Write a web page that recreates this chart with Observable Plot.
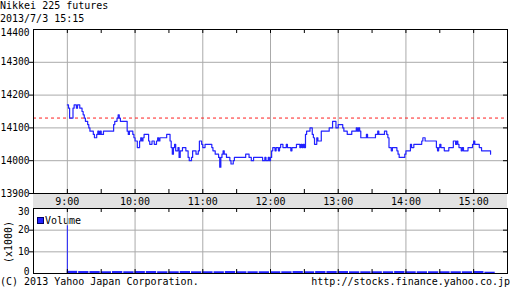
<!DOCTYPE html>
<html><head><meta charset="utf-8">
<script src="https://cdn.jsdelivr.net/npm/d3@7"></script>
<script src="https://cdn.jsdelivr.net/npm/@observablehq/plot@0.6"></script>
<style>
body{margin:0;background:#fff;}
#wrap{position:relative;width:512px;height:301px;overflow:hidden;font-family:"DejaVu Sans Mono",monospace;font-size:10px;color:#000;background:#fff;}
.abs{position:absolute;white-space:pre;line-height:12px;}
.foot{position:absolute;white-space:pre;line-height:10px;top:277px;}
#band{position:absolute;left:33px;top:193px;width:474px;height:15px;background:#e2e2e2;}
#wrap svg{position:absolute;left:0;top:0;}
#leg{position:absolute;left:37px;top:217px;width:5px;height:5px;background:#2222ff;border:1px solid #000066;}
#unit{position:absolute;left:-21px;top:236px;width:60px;height:12px;line-height:12px;text-align:center;transform:rotate(-90deg);white-space:pre;}
</style></head><body><div id="wrap">
<div id="band"></div>
<div class="abs" style="left:0px;top:0px">Nikkei 225 futures</div>
<div class="abs" style="left:0px;top:13px">2013/7/3 15:15</div>
<div id="leg"></div>
<div class="abs" style="left:45px;top:215px">Volume</div>
<div id="unit">(x1000)</div>
<div class="foot" style="left:0px">(C) 2013 Yahoo Japan Corporation.</div>
<div class="foot" style="right:2px">http://stocks.finance.yahoo.co.jp</div>
</div>
<script>
// ---- data ----
const priceTimes = ["9:00","9:01","9:02","9:05","9:06","9:08","9:09","9:11","9:13","9:14","9:15","9:16","9:18","9:19","9:20","9:23","9:24","9:26","9:27","9:28","9:29","9:30","9:32","9:41","9:42","9:44","9:45","9:46","9:47","9:53","9:54","9:55","9:58","9:59",
"10:00","10:02","10:04","10:05","10:06","10:07","10:08","10:12","10:13","10:15","10:17","10:19","10:20","10:21","10:22","10:28","10:31","10:32","10:33","10:34","10:35","10:36","10:38","10:39","10:40","10:42","10:45","10:47","10:48","10:50","10:51","10:54","10:56","10:57","10:59",
"11:00","11:02","11:08","11:09","11:11","11:14","11:15","11:16","11:17","11:18","11:19","11:21","11:24","11:25","11:27","11:28","11:38","11:41","11:43","11:45","11:53","11:55","11:56","11:58","11:59",
"12:00","12:01","12:02","12:04","12:05","12:07","12:08","12:09","12:11","12:14","12:15","12:18","12:19","12:23","12:26","12:27","12:28","12:29","12:30","12:31","12:32","12:35","12:37","12:38","12:39","12:41","12:42","12:45","12:52","12:55","12:58",
"13:00","13:04","13:05","13:08","13:12","13:16","13:17","13:18","13:19","13:20","13:25","13:26","13:33","13:35","13:36","13:41","13:43","13:44","13:45","13:47","13:48","13:52","13:53","13:54","13:59",
"14:00","14:04","14:05","14:07","14:14","14:15","14:17","14:27","14:28","14:29","14:30","14:31","14:34","14:38","14:42","14:44","14:45","14:46","14:47","14:49","14:50","14:51","14:55","14:59",
"15:00","15:01","15:05","15:07","15:15"];
const prices = [14170,14160,14130,14160,14170,14160,14170,14160,14150,14140,14130,14120,14110,14100,14090,14080,14070,14080,14090,14080,14090,14080,14090,14110,14120,14130,14140,14130,14120,14090,14080,14090,14080,14070,
14060,14040,14060,14070,14060,14070,14080,14060,14050,14060,14050,14060,14070,14060,14070,14080,14060,14040,14020,14040,14050,14030,14040,14010,14030,14040,14030,14010,14000,14010,14030,14020,14030,14060,14050,
14040,14050,14040,14030,14020,14010,13980,14010,14020,14030,14020,14010,14000,13990,14000,14010,14020,14010,14000,14010,14000,14010,14000,14010,14000,
14010,14030,14040,14030,14040,14030,14040,14050,14040,14050,14040,14030,14040,14050,14040,14050,14040,14050,14040,14080,14090,14100,14080,14070,14050,14070,14060,14090,14100,14120,14100,
14110,14100,14090,14080,14090,14100,14090,14100,14090,14070,14080,14070,14080,14090,14080,14090,14080,14070,14040,14030,14040,14030,14020,14010,14020,
14030,14050,14040,14050,14060,14070,14060,14040,14030,14040,14050,14040,14030,14040,14060,14050,14060,14050,14040,14030,14040,14030,14040,14050,
14060,14050,14040,14030,14020];
const prevClose = 14130;

const openVolTime = "9:00";
const openVolume = 22;
const volTimes = ["9:00","9:10","9:20","9:30","9:40","9:50","10:00","10:10","10:20","10:30","10:40","10:50","11:00","11:10","11:20","11:30","11:40","11:50","12:00","12:10","12:20","12:30","12:40","12:50","13:00","13:10","13:20","13:30","13:40","13:50","14:00","14:10","14:20","14:30","14:40","14:50","15:00","15:10"];
const volumes = [1.0,0.9,0.9,0.8,0.9,0.8,0.9,0.9,0.8,0.8,0.9,0.8,0.8,0.8,0.9,0.8,0.8,0.8,0.8,0.8,0.9,0.8,0.9,0.9,0.9,0.8,0.8,0.8,0.8,0.9,0.8,0.8,0.8,0.8,0.8,0.8,0.9,0.6];

const hourTicks = ["9:00","10:00","11:00","12:00","13:00","14:00","15:00"];
const halfTicks = ["9:00","9:30","10:00","10:30","11:00","11:30","12:00","12:30","13:00","13:30","14:00","14:30","15:00"];
const xStart = "8:30", xEnd = "15:30";
const priceTicks = [13900,14000,14100,14200,14300];
const priceTopTick = [14400];
const priceGrid = [14000,14100,14200,14300];
const volTicks = [10,20];
const volBottomTick = [0];
const volTopTick = [30];
const volGrid = [10,20];

// ---- helpers ----
const toDate = s => { const [h,m] = s.split(":").map(Number); return new Date(Date.UTC(2013,6,3,h,m)); };
const fmt = d3.utcFormat("%-H:%M");
const xDomain = [toDate(xStart), toDate(xEnd)];
const hours = hourTicks.map(toDate);
const halves = halfTicks.map(toDate);
const rows = priceTimes.map((t,i) => ({t: toDate(t), v: prices[i]}));
const vrows = volTimes.map((t,i) => ({t: toDate(t), v: volumes[i]}));
const blue = "#2222ff";
const gridStroke = "#aaaaaa";
const style = {background:"transparent", fontFamily:"DejaVu Sans Mono, monospace", fontSize:"10px", color:"#000", overflow:"visible"};
const yLab = {fontSize: 9.6, label: null, tickFormat: d => String(d)};
const W = 512, ML = 33, MR = 5;
const plotW = W - ML - MR;

// ---- price panel ----
const PT = 29, PB = 15, PH = 208;
const pInner = PH - PT - PB;
const price = Plot.plot({
  width: W, height: PH, marginTop: PT, marginBottom: PB, marginLeft: ML, marginRight: MR,
  style,
  x: {type: "utc", domain: xDomain, label: null},
  y: {domain: [13900, 14400], label: null},
  marks: [
    Plot.gridX(hours, {stroke: gridStroke, strokeOpacity: 1}),
    Plot.gridY(priceGrid, {stroke: gridStroke, strokeOpacity: 1}),
    Plot.ruleY([prevClose], {stroke: "#ff2020", strokeDasharray: "3,3"}),
    Plot.line(rows, {x: "t", y: "v", curve: "step-after", stroke: blue, strokeWidth: 1.2}),
    Plot.frame({stroke: "#000"}),
    Plot.tickX(halves, {x: d => d, insetBottom: pInner - 4, stroke: "#000"}),
    Plot.tickX(halves, {x: d => d, insetTop: pInner - 4, stroke: "#000"}),
    Plot.tickY(priceGrid, {y: d => d, insetLeft: plotW - 4, stroke: "#000"}),
    Plot.axisY(priceTicks, {...yLab, anchor: "left", tickSize: 4, tickPadding: 0}),
    Plot.axisY(priceTopTick, {...yLab, anchor: "left", tickSize: 0, tickPadding: 4, dy: 3}),
    Plot.axisX(hours, {anchor: "bottom", label: null, tickSize: 0, tickPadding: 4, tickFormat: fmt})
  ]
});
document.getElementById("wrap").appendChild(price);

// ---- volume panel ----
const VT = 208, VB = 28, VH = 301;
const vInner = VH - VT - VB;
const vol = Plot.plot({
  width: W, height: VH, marginTop: VT, marginBottom: VB, marginLeft: ML, marginRight: MR,
  style,
  x: {type: "utc", domain: xDomain, axis: null},
  y: {domain: [0, 30], axis: null},
  marks: [
    Plot.gridX(hours, {stroke: gridStroke, strokeOpacity: 1}),
    Plot.gridY(volGrid, {stroke: gridStroke, strokeOpacity: 1}),
    Plot.rectY(vrows, {x1: "t", x2: d => d3.utcMinute.offset(d.t, 10), y: "v", fill: blue, insetRight: 1}),
    Plot.ruleX([{t: toDate(openVolTime), v: openVolume}], {x: "t", y1: 0, y2: "v", stroke: blue}),
    Plot.frame({stroke: "#000"}),
    Plot.tickX(halves, {x: d => d, insetBottom: vInner - 4, stroke: "#000"}),
    Plot.tickX(halves, {x: d => d, insetTop: vInner - 4, stroke: "#000"}),
    Plot.tickY(volGrid, {y: d => d, insetLeft: plotW - 4, stroke: "#000"}),
    Plot.axisY(volTicks, {...yLab, anchor: "left", tickSize: 4, tickPadding: 0}),
    Plot.axisY(volBottomTick, {...yLab, anchor: "left", tickSize: 0, tickPadding: 4, dy: -1.5}),
    Plot.axisY(volTopTick, {...yLab, anchor: "left", tickSize: 0, tickPadding: 4, dy: 3})
  ]
});
document.getElementById("wrap").appendChild(vol);
</script>
</body></html>
